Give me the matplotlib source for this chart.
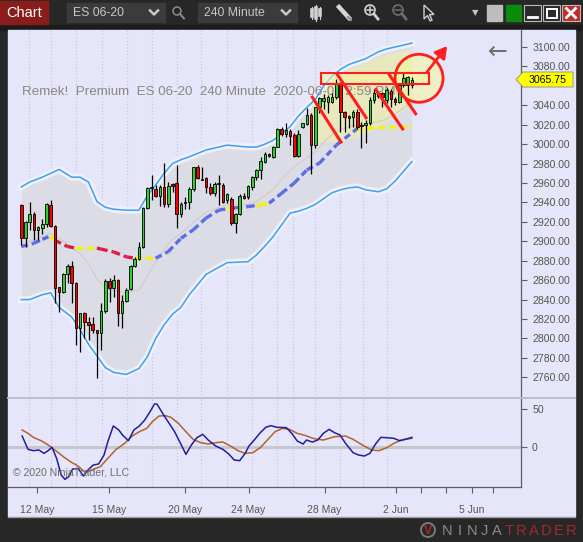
import matplotlib
matplotlib.use("Agg")
import matplotlib.pyplot as plt
from matplotlib.patches import Rectangle, Ellipse, Polygon
from matplotlib.lines import Line2D
import numpy as np

plt.rcParams['font.family'] = ['Liberation Sans', 'DejaVu Sans']

W, H = 583, 542

# ES 06-20, 240 minute bars (11 May .. 2 Jun 2020)
opens = [2937.5, 2903.9, 2920.0, 2927.9, 2911.7, 2913.5, 2917.9, 2937.5, 2915.9, 2852.7,
         2847.6, 2866.1, 2874.7, 2856.9, 2810.6, 2826.0, 2817.1, 2815.0, 2808.2, 2805.4,
         2828.7, 2859.3, 2851.7, 2860.3, 2826.0, 2838.7, 2850.7, 2874.7, 2881.9, 2893.9,
         2934.0, 2954.6, 2953.5, 2946.7, 2955.6, 2938.1, 2958.7, 2959.7, 2928.2, 2939.1,
         2940.9, 2953.5, 2976.2, 2964.2, 2964.9, 2955.6, 2949.4, 2959.0, 2958.0, 2942.5,
         2944.0, 2918.5, 2928.1, 2946.6, 2945.3, 2956.3, 2965.9, 2973.4, 2982.0, 2989.9,
         2987.1, 2997.4, 3015.3, 3010.4, 3013.9, 3009.4, 2987.8, 3017.3, 3020.7, 3030.0,
         2999.1, 3038.6, 3044.5, 3043.7, 3043.7, 3048.2, 3063.3, 3033.4, 3029.0, 3028.3,
         3033.4, 3019.4, 3019.7, 3021.4, 3045.4, 3053.0, 3052.3, 3045.4, 3055.0, 3046.1,
         3043.7, 3060.9, 3060.9, 3060.9]
highs = [2938.5, 2921.0, 2940.2, 2930.6, 2915.9, 2922.7, 2939.9, 2942.6, 2916.9, 2853.4,
         2867.2, 2876.8, 2879.8, 2858.6, 2826.7, 2827.4, 2821.9, 2821.9, 2808.9, 2836.3,
         2861.0, 2862.0, 2865.4, 2861.0, 2844.9, 2851.7, 2875.7, 2883.6, 2899.7, 2935.8,
         2956.3, 2968.3, 2958.0, 2958.0, 2980.3, 2961.4, 2959.7, 2978.6, 2940.9, 2946.0,
         2956.3, 2976.9, 2978.6, 2976.9, 2966.6, 2960.4, 2961.4, 2968.3, 2959.7, 2950.1,
         2946.0, 2929.5, 2948.7, 2949.4, 2958.0, 2967.2, 2974.1, 2986.4, 2992.3, 2990.6,
         2998.1, 3016.3, 3018.0, 3022.1, 3015.3, 3011.8, 3014.6, 3022.1, 3036.9, 3031.7,
         3038.6, 3048.2, 3052.0, 3050.6, 3052.3, 3066.7, 3064.3, 3034.5, 3030.0, 3035.2,
         3035.8, 3023.1, 3024.9, 3048.2, 3056.4, 3054.0, 3054.0, 3057.4, 3056.4, 3048.2,
         3061.9, 3074.6, 3070.1, 3068.8]
lows = [2896.3, 2893.9, 2911.7, 2901.5, 2901.5, 2907.3, 2915.2, 2915.2, 2836.3, 2827.7,
        2846.6, 2856.9, 2836.3, 2793.4, 2786.5, 2800.3, 2798.6, 2805.4, 2759.8, 2788.3,
        2826.0, 2838.0, 2843.1, 2812.3, 2811.2, 2838.0, 2850.0, 2873.3, 2880.9, 2892.9,
        2933.0, 2942.6, 2946.0, 2936.4, 2935.7, 2935.7, 2951.1, 2913.4, 2924.7, 2933.0,
        2933.0, 2951.8, 2963.8, 2963.1, 2949.4, 2947.7, 2946.7, 2937.4, 2939.8, 2939.1,
        2916.8, 2908.2, 2927.1, 2943.6, 2943.2, 2952.8, 2963.1, 2963.8, 2981.0, 2986.4,
        2985.4, 2996.7, 3008.4, 3007.7, 2999.1, 2986.4, 2986.4, 3016.3, 3019.7, 2969.3,
        2995.7, 3031.7, 3036.0, 3031.7, 3042.0, 3046.1, 3012.9, 3012.9, 3016.3, 3018.0,
        3015.3, 2995.7, 3000.8, 3019.7, 3042.7, 3047.2, 3038.6, 3042.0, 3037.9, 3040.3,
        3042.0, 3059.2, 3050.6, 3057.4]
closes = [2903.9, 2920.3, 2928.2, 2911.7, 2914.5, 2917.9, 2938.2, 2915.9, 2852.4, 2847.6,
          2866.1, 2874.7, 2856.9, 2810.6, 2826.0, 2816.7, 2814.0, 2808.2, 2805.4, 2828.7,
          2859.3, 2851.7, 2860.3, 2826.0, 2838.7, 2850.0, 2874.7, 2881.9, 2893.9, 2934.0,
          2954.6, 2955.5, 2946.7, 2955.6, 2938.1, 2957.0, 2957.0, 2928.2, 2938.1, 2940.9,
          2953.5, 2976.2, 2964.9, 2963.2, 2955.6, 2949.4, 2959.0, 2959.5, 2940.8, 2948.7,
          2918.5, 2928.1, 2946.6, 2944.2, 2957.0, 2966.5, 2973.4, 2983.0, 2989.9, 2987.8,
          2997.4, 3015.3, 3010.4, 3014.6, 3008.4, 2987.8, 3010.0, 3021.4, 3030.0, 2999.1,
          3037.9, 3047.2, 3048.0, 3048.2, 3048.9, 3063.3, 3033.4, 3027.6, 3026.6, 3033.4,
          3018.0, 3019.0, 3022.1, 3045.4, 3053.0, 3049.6, 3048.2, 3055.7, 3046.1, 3043.7,
          3060.9, 3067.7, 3068.8, 3065.75]
last_price = 3065.75

# bollinger style bands, read at these bar numbers
band_idx = [0, 2, 5, 7, 9, 12, 14, 16, 18, 20, 22, 25, 28, 30, 32, 34, 36, 38, 40, 44,
            49, 54, 56, 58, 60, 62, 64, 66, 68, 70, 72, 74, 76, 78, 80, 82, 85, 87, 89, 91, 93]
upper_band = [2956, 2961, 2966, 2970, 2974, 2966, 2966, 2961, 2941, 2935, 2933, 2932, 2932, 2947,
              2958, 2970, 2980, 2984, 2987, 2994, 2999, 2997, 2997, 3000, 3004, 3011, 3018, 3029,
              3038, 3046, 3060, 3070, 3077, 3082, 3085, 3088, 3095, 3098, 3100, 3102, 3104]
lower_band = [2840, 2840, 2845, 2847, 2832, 2822, 2809, 2794, 2782, 2770, 2765, 2763, 2769, 2781,
              2800, 2814, 2825, 2832, 2845, 2866, 2878, 2879, 2886, 2895, 2905, 2917, 2929, 2931,
              2934, 2938, 2944, 2950, 2953, 2955, 2956, 2953, 2951, 2954, 2962, 2972, 2982]
mid_band = [2898, 2900, 2905, 2908, 2903, 2894, 2887, 2877, 2861, 2852, 2849, 2847, 2850, 2864,
            2879, 2892, 2902, 2908, 2916, 2930, 2938, 2938, 2941, 2947, 2954, 2964, 2973, 2980,
            2986, 2992, 3002, 3010, 3015, 3018, 3020, 3021, 3023, 3026, 3031, 3037, 3043]

# yellow zone near the end
zone_idx = [69, 72, 76, 80, 84, 88, 93]
zone_low = [3004, 3002, 3003, 3008, 3016, 3026, 3041]
zone_high = [3040, 3057, 3073, 3081, 3088, 3094, 3098]

# dashed trend average and its state per segment
ma_idx = [0, 3, 5, 7, 8, 11, 13, 18, 19, 22, 25, 27, 32, 35, 38, 41, 44, 47, 49, 50, 51, 54,
          56, 57, 59, 62, 65, 68, 71, 75, 80, 93]
ma_vals = [2894.6, 2898, 2902, 2905.6, 2901, 2894.6, 2893, 2893, 2892, 2889, 2884, 2882.6,
           2882.6, 2889.4, 2903, 2912, 2924, 2932, 2933.5, 2934, 2934.5, 2935.7, 2937, 2937.5,
           2939.2, 2949.5, 2960, 2973.5, 2980.5, 2999, 3016, 3018]
ma_state = ['up', 'up', 'up', 'flat', 'down', 'down', 'flat', 'down', 'down', 'down', 'down',
            'flat', 'up', 'up', 'up', 'up', 'up', 'up', 'flat', 'down', 'up', 'up', 'flat',
            'flat', 'up', 'up', 'up', 'up', 'up', 'up', 'flat']

# lower panel oscillator
fast_idx = [0.2, 1.6, 2.9, 4.2, 5.4, 6.4, 7.3, 8.4, 9.5, 10.4, 11.3, 12.2, 13.5, 14.8, 15.7,
            17.1, 18.4, 19.7, 20.6, 21.9, 23.2, 24.1, 25.5, 26.8, 28.1, 29.4, 30.8, 31.7, 32.3,
            33.9, 35.2, 36.5, 37.9, 39.2, 40.5, 41.8, 43.2, 44.5, 46.3, 48.0, 49.4, 50.7, 52.0,
            53.3, 54.2, 55.6, 56.9, 58.2, 59.4, 60.9, 63.1, 64.4, 65.7, 67.1, 67.9, 69.3, 70.6,
            71.9, 73.3, 74.6, 75.9, 77.2, 79.0, 80.3, 81.7, 83.0, 84.3, 85.6, 87.0, 88.7, 90.1,
            91.4, 93.0]
fast_vals = [14.2, -3.5, -5.2, -4.4, -8.8, -5.2, -0.8, -15.4, -37.5, -43.3, -39.7, -29.6, -28.7,
             -38.8, -31.8, -24.3, -22.9, -11.0, 6.7, 27.5, 22.2, 15.5, 8.0, 22.2, 27.5, 35.4, 47.8,
             56.6, 56.6, 42.0, 31.0, 19.9, 4.5, -10.1, 2.3, 12.0, 16.4, 8.9, 0.9, -3.5, -9.7, -17.6,
             -18.5, -8.8, 0.9, 9.8, 18.6, 25.7, 27.9, 25.7, 25.3, 17.7, 7.6, 3.6, 8.9, 6.2, 8.9,
             17.7, 23.0, 18.6, 15.5, 4.5, -7.9, -11.0, -12.3, -8.8, 3.2, 12.4, 12.0, 11.1, 8.0,
             9.8, 12.4]
slow_idx = [0.2, 1.6, 2.9, 4.7, 6.4, 8.2, 10.0, 11.7, 13.5, 15.3, 17.1, 18.8, 20.6, 22.4, 24.6,
            26.4, 28.1, 29.9, 31.2, 32.8, 34.3, 35.6, 37.4, 39.2, 40.9, 42.7, 44.5, 46.3, 48.0,
            49.8, 51.6, 53.3, 55.1, 56.9, 58.6, 60.4, 62.2, 63.9, 65.7, 67.5, 69.7, 71.9, 74.6,
            77.2, 79.0, 81.2, 83.4, 85.2, 87.0, 88.7, 90.5, 93.0]
slow_vals = [22.2, 17.7, 12.4, 8.0, 2.3, -5.2, -13.2, -19.8, -25.6, -34.4, -30.0, -26.5, -15.4,
             -4.4, 4.5, 14.2, 19.9, 24.4, 33.2, 40.7, 41.2, 39.0, 31.0, 19.9, 9.8, 5.4, 3.6, 5.4,
             6.2, 0.9, -5.2, -8.8, -7.9, -1.3, 8.9, 19.9, 24.4, 23.0, 17.7, 15.1, 10.7, 8.9, 13.3,
             14.2, 9.8, 2.3, -4.4, -5.2, -1.3, 4.5, 8.9, 11.1]

day_lines = [1.9, 7.0, 13.0, 19.1, 25.1, 31.0, 37.0, 42.8, 48.9, 54.9, 60.8, 64.8, 69.9, 75.9,
             81.4, 87.1]
date_ticks = [3.8, 20.9, 39.0, 54.1, 72.2, 89.1, 95.2, 101.1, 107.2, 112.2]
date_labels = ['12 May', '15 May', '20 May', '24 May', '28 May', '2 Jun', '', '', '5 Jun', '']
price_ticks = list(range(2760, 3101, 20))

title = "Remek!  Premium  ES 06-20  240 Minute  2020-06-02 2:59 PM"


def fpt(x, y):
    return x / W, 1 - y / H


fig = plt.figure(figsize=(W / 100, H / 100), dpi=100, facecolor='#272727')


def frect(x0, y0, x1, y1, z=1, **kw):
    fig.add_artist(Rectangle(fpt(x0, y1), (x1 - x0) / W, (y1 - y0) / H,
                             transform=fig.transFigure, zorder=z, **kw))


def fline(xs, ys, z=3, **kw):
    fig.add_artist(Line2D([x / W for x in xs], [1 - y / H for y in ys],
                          transform=fig.transFigure, zorder=z, **kw))


def ftext(x, y, s, **kw):
    fig.text(x / W, 1 - y / H, s, **kw)


# frame and panel background
frect(0, 25, 583, 30, z=-2, color='#1b1b1b')
frect(8, 30, 575, 516, z=-2, color='#e6e6fa')
fline([8, 575], [516.5, 516.5], color='#9c9c9c', lw=1)

ax = fig.add_axes([8 / W, 1 - 398 / H, 513 / W, 368 / H])
ax2 = fig.add_axes([8 / W, 1 - 487 / H, 513 / W, 89 / H])
for a in (ax, ax2):
    a.set_facecolor('#e6e6fa')
    a.set_xlim(-3.17, 118.98)
    for s in ('top', 'left', 'bottom', 'right'):
        a.spines[s].set_visible(False)
    a.spines['right'].set_visible(True)
    a.spines['right'].set_color('#5e5e5e')
    a.spines['right'].set_linewidth(0.9)
    for d in day_lines:
        a.axvline(d, color='#c4c4d2', lw=0.8, ls=(0, (1, 2)), zorder=0.5)
ax2.spines['bottom'].set_visible(True)
ax2.spines['bottom'].set_color('#5e5e5e')
ax2.spines['bottom'].set_linewidth(0.9)

ax.set_ylim(2738.7, 3117.5)
ax2.set_ylim(-53.4, 64.6)

# bands
bi = np.array(band_idx)
ax.fill_between(bi, lower_band, upper_band, color='#dcdce7', lw=0, zorder=1)
ax.fill_between(zone_idx, zone_low, zone_high, color='#ececb4', alpha=0.8, lw=0, zorder=1.2)
for band in (upper_band, lower_band):
    ax.plot(bi, band, color='#f0f0fb', lw=5, zorder=1.5, solid_joinstyle='round')
    ax.plot(bi, band, color='#3f9ff2', lw=1.1, zorder=2)
ax.plot(bi, mid_band, color='#cdcdc4', lw=0.8, zorder=1.8)

ax.text((21.7 - 8) / 513, (398 - 92.3) / 368, title, transform=ax.transAxes,
        fontsize=9.6, color='#8c867e', ha='left', va='center', zorder=2.5)

state_colors = {'up': '#5a6de4', 'down': '#dc1c44', 'flat': '#f4f400'}
for k in range(len(ma_state)):
    ax.plot(ma_idx[k:k + 2], ma_vals[k:k + 2], color=state_colors[ma_state[k]], lw=2.4,
            ls=(0, (2, 1.2)), dash_capstyle='butt', zorder=3)

# drawing objects: shaded fills sit under the candles, outlines above
red = '#ff1e1e'
shade = (0.96, 0.96, 0.62, 0.55)
box = ((71.3, 3061.6), 25.8, 11.3)
ring = ((94.7, 3067.8), 11.43, 49.4)
ax.add_patch(Rectangle(*box, facecolor=shade, edgecolor='none', zorder=3.5))
ax.add_patch(Ellipse(*ring, facecolor=shade, edgecolor='none', zorder=3.5))

# candles
x = np.arange(len(opens))
o = np.array(opens)
c = np.array(closes)
cols = np.where(c >= o, '#32cd32', '#ff0000')
ax.vlines(x, lows, highs, color='black', lw=0.9, zorder=4)
ax.bar(x, c - o, bottom=o, width=0.62, color=cols, edgecolor='black', linewidth=0.6, zorder=5)

ax.add_patch(Rectangle(*box, fill=False, edgecolor=red, lw=1.5, zorder=6))
for (xa, ya), (xb, yb) in [((69.1, 3049.6), (76.3, 3000.9)), ((75.0, 3073.3), (82.3, 3025.9)),
                           ((84.2, 3057.5), (91.0, 3014.3)), ((87.4, 3072.9), (94.1, 3030.0))]:
    ax.plot([xa, xb], [ya, yb], color=red, lw=2.2, zorder=6, solid_capstyle='butt')
ax.add_patch(Ellipse(*ring, fill=False, edgecolor=red, lw=2, zorder=6))
ax.annotate('', xy=(101.4, 3101), xytext=(96.6, 3074.3), zorder=7,
            arrowprops=dict(arrowstyle='-|>,head_length=0.7,head_width=0.4', color=red,
                            lw=2, shrinkA=0, shrinkB=0))

# price axis (3060 sits under the last price marker)
ax.set_xticks([])
ax.yaxis.tick_right()
ax.set_yticks(price_ticks)
ax.set_yticklabels(['' if v == 3060 else f'{v:.2f}' for v in price_ticks])
ax.tick_params(axis='y', length=4, width=0.8, color='#5e5e5e', labelsize=7.6,
               labelcolor='#5a544e', pad=4)

# oscillator panel
ax2.axhline(0, color='#c6c6ce', lw=2.2, zorder=1)
ax2.plot(slow_idx, slow_vals, color='#b2622c', lw=1.1, zorder=3)
ax2.plot(fast_idx, fast_vals, color='#1f1f9e', lw=1.1, zorder=4)
ax2.yaxis.tick_right()
ax2.set_yticks([0, 50])
ax2.set_yticklabels(['0', '50'])
ax2.tick_params(axis='y', length=4, width=0.8, color='#5e5e5e', labelsize=7.6,
                labelcolor='#5a544e', pad=4)
ax2.set_xticks(date_ticks)
ax2.set_xticklabels(date_labels)
ax2.tick_params(axis='x', length=4, width=0.8, color='#5e5e5e', labelsize=7.5,
                labelcolor='#5a544e', pad=9)
ax2.text((12.6 - 8) / 513, (487 - 472.7) / 89, '\u00a9 2020 NinjaTrader, LLC',
         transform=ax2.transAxes, fontsize=7.6, color='#6c6c6c', va='center', zorder=5)

# panel separator
fline([8, 575], [398, 398], color='#bcbcc6', lw=1.4)

# last price marker
fig.add_artist(Polygon([fpt(516, 79.5), fpt(523, 72), fpt(573, 72), fpt(573, 87), fpt(523, 87)],
                       closed=True, facecolor='#ffff00', edgecolor='#8a8a8a', lw=0.6,
                       transform=fig.transFigure, zorder=5))
ftext(548, 79.8, f'{last_price:.2f}', fontsize=7.6, color='black', ha='center', va='center',
      zorder=6)
ftext(498, 52, '\u2190', fontsize=17, color='#6e6e6e', ha='center', va='center',
      family='DejaVu Sans')

# toolbar
frect(0, 1, 48, 24, color='#8a1c1c')
ftext(6, 13, 'Chart', color='white', fontsize=10.5, va='center')
for bx0, bx1, label in [(67, 165, 'ES 06-20'), (198, 297, '240 Minute')]:
    frect(bx0, 3, bx1, 22, color='#3b3b3b')
    ftext(bx0 + 6, 13, label, color='#c6c6c6', fontsize=8.8, va='center')
    fline([bx1 - 15, bx1 - 11, bx1 - 7], [10.5, 14.5, 10.5], color='#c8c8c8', lw=1.8)
fig.add_artist(Ellipse(fpt(177, 11), 8 / W, 8 / H, transform=fig.transFigure, fill=False,
                       edgecolor='#8c8c8c', lw=1.1, zorder=3))
fline([180, 184], [14, 18.5], color='#8c8c8c', lw=1.4)
for cx, y0, y1, b0, b1 in [(312, 7, 19, 10, 16), (316, 5, 21, 8, 18), (320, 7, 19, 10, 15)]:
    fline([cx, cx], [y0, y1], color='#d2d2d2', lw=0.8)
    fline([cx, cx], [b0, b1], color='#d2d2d2', lw=2.6)
fline([339, 349], [7, 18], color='#d6d6d6', lw=3.2)
fline([348, 351], [17, 20], color='#909090', lw=1.5)
for zx, col, plus in [(370, '#d2d2d2', True), (398, '#6e6e6e', False)]:
    fig.add_artist(Ellipse(fpt(zx, 10), 10 / W, 10 / H, transform=fig.transFigure, fill=False,
                           edgecolor=col, lw=1.2, zorder=3))
    fline([zx + 4, zx + 8], [14, 19], color=col, lw=2)
    fline([zx - 3, zx + 3], [10, 10], color=col, lw=1.1)
    if plus:
        fline([zx, zx], [7, 13], color=col, lw=1.1)
fig.add_artist(Polygon([fpt(424, 5), fpt(424, 19), fpt(427.5, 15.5), fpt(430, 21), fpt(432, 20),
                        fpt(429.5, 14.5), fpt(434, 14.5)], closed=True, fill=False,
                       edgecolor='#cfcfcf', lw=1, transform=fig.transFigure, zorder=3))
ftext(475, 13, '\u25bc', fontsize=6, color='#c4c4c4', ha='center', va='center',
      family='DejaVu Sans')
frect(487, 5, 502, 21, color='#bdbdbd')
frect(506, 5, 521, 21, color='#0b8a0b')
frect(524, 5, 541, 21, color='#2a2a2a', ec='#bbbbbb', lw=0.8)
fline([528, 537], [17, 17], color='white', lw=2)
frect(543, 5, 560, 21, color='#2a2a2a', ec='#bbbbbb', lw=0.8)
frect(546.5, 8.5, 556.5, 17.5, fill=False, ec='white', lw=1.4)
frect(562, 5, 580, 21, color='#c42b2b', ec='#bbbbbb', lw=0.8)
fline([566.5, 575.5], [8.5, 17.5], color='white', lw=2)
fline([566.5, 575.5], [17.5, 8.5], color='white', lw=2)

# logo
fig.add_artist(Ellipse(fpt(428, 530), 14 / W, 14 / H, transform=fig.transFigure, fill=False,
                       edgecolor='#7a7a7a', lw=1.4, zorder=3))
ftext(428, 531, 'V', color='#a82828', fontsize=9, fontweight='bold', ha='center', va='center')
for k, ch in enumerate('NINJATRADER'):
    ftext(447 + k * 12.4, 531, ch, color='#8a8a8a' if k < 5 else '#a52a2a', fontsize=10.5,
          ha='center', va='center')

fig.savefig('out.png', dpi=100, facecolor=fig.get_facecolor())
